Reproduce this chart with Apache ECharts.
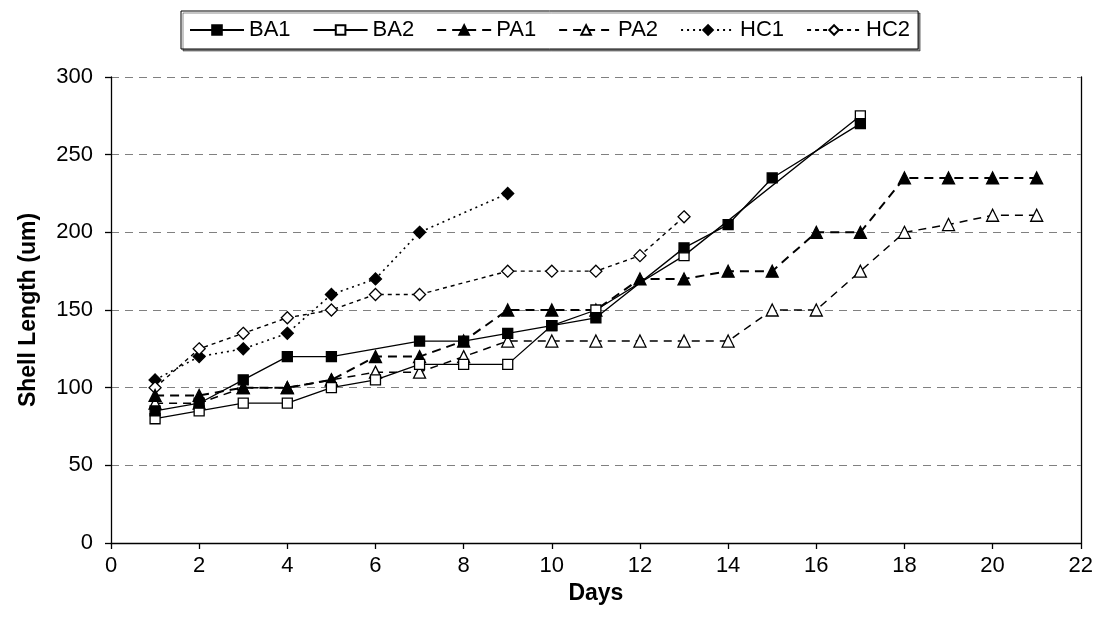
<!DOCTYPE html>
<html>
<head>
<meta charset="utf-8">
<script src="https://cdn.jsdelivr.net/npm/echarts@6/dist/echarts.min.js"></script>
<style>html,body{margin:0;padding:0;background:#fff}#c{width:1096px;height:631px}</style>
</head>
<body>
<div id="c"></div>
<script>
var days = [1,2,3,4,5,6,7,8,9,10,11,12,13,14,15,16,17,18,19,20,21];
var BA1 = [85, 90, 105, 120, 120, null, 130, 130, 135, 140, 145, null, 190, 205, 235, null, 270, null, null, null, null];
var BA2 = [80, 85, 90, 90, 100, 105, 115, 115, 115, 140, 150, null, 185, null, null, null, 275, null, null, null, null];
var PA1 = [95, 95, 100, 100, 105, 120, 120, 130, 150, 150, 150, 170, 170, 175, 175, 200, 200, 235, 235, 235, 235];
var PA2 = [90, 90, 100, 100, 105, 110, 110, 120, 130, 130, 130, 130, 130, 130, 150, 150, 175, 200, 205, 211, 211];
var HC1 = [105, 120, 125, 135, 160, 170, 200, null, 225, null, null, null, null, null, null, null, null, null, null, null, null];
var HC2 = [100, 125, 135, 145, 150, 160, 160, null, 175, 175, 175, 185, 210, null, null, null, null, null, null, null, null];
var xTicks = [0, 2, 4, 6, 8, 10, 12, 14, 16, 18, 20, 22];
var yTicks = [0, 50, 100, 150, 200, 250, 300];

function pts(arr){
  return days.map(function(d,i){return [d, arr[i]];}).filter(function(p){return p[1]!==null;});
}
var FONT = '"Liberation Sans", Arial, sans-serif';
function mk(name, arr, symbol, size, filled, lineType, lineWidth, z){
  return {
    name: name, type: 'line', data: pts(arr), symbol: symbol, symbolSize: size,
    z: z,
    lineStyle: {color: '#000', width: lineWidth, type: lineType},
    itemStyle: {color: filled ? '#000' : '#fff', borderColor: '#000', borderWidth: 1.3},
    emphasis: {disabled: true}
  };
}
var chart = echarts.init(document.getElementById('c'), null, {renderer: 'canvas'});
chart.setOption({
  animation: false,
  backgroundColor: '#fff',
  textStyle: {fontFamily: FONT},
  legend: {
    top: 11, left: 181,
    padding: [8, 8],
    itemGap: 22, itemWidth: 54, itemHeight: 12,
    backgroundColor: '#fff', borderColor: '#000', borderWidth: 1,
    shadowColor: 'rgba(0,0,0,0.45)', shadowOffsetX: 2, shadowOffsetY: 2, shadowBlur: 0,
    textStyle: {fontSize: 22, color: '#000', fontFamily: FONT},
    data: ['BA1','BA2','PA1','PA2','HC1','HC2']
  },
  grid: {left: 111, right: 15, top: 77, bottom: 88, containLabel: false},
  xAxis: {
    type: 'value', min: xTicks[0], max: xTicks[xTicks.length-1], interval: 2,
    name: 'Days', nameLocation: 'middle', nameGap: 39,
    nameTextStyle: {fontSize: 23, fontWeight: 'bold', color: '#000', fontFamily: FONT},
    axisLine: {show: true, lineStyle: {color: '#000', width: 1.3}},
    axisTick: {show: true, length: 6, lineStyle: {color: '#000', width: 1.3}},
    axisLabel: {fontSize: 22, color: '#000', margin: 12, fontFamily: FONT},
    splitLine: {show: false}
  },
  yAxis: [{
    type: 'value', min: yTicks[0], max: yTicks[yTicks.length-1], interval: 50,
    name: 'Shell Length (um)', nameLocation: 'middle', nameGap: 71, nameRotate: 90,
    nameTextStyle: {fontSize: 23, fontWeight: 'bold', color: '#000', fontFamily: FONT},
    axisLine: {show: true, lineStyle: {color: '#000', width: 1.3}},
    axisTick: {show: true, length: 6, lineStyle: {color: '#000', width: 1.3}},
    axisLabel: {fontSize: 22, color: '#000', margin: 18, fontFamily: FONT},
    splitLine: {show: true, lineStyle: {color: '#808080', width: 1.2, type: [8, 6]}}
  }, {
    type: 'value', min: 0, max: 300, position: 'right',
    axisLine: {show: true, lineStyle: {color: '#000', width: 1.3}},
    axisTick: {show: false}, axisLabel: {show: false}, splitLine: {show: false}
  }],
  series: [
    mk('BA1', BA1, 'rect', 10, true, 'solid', 1.3, 6),
    mk('BA2', BA2, 'rect', 10, false, 'solid', 1.3, 5),
    mk('PA1', PA1, 'triangle', 12, true, [9, 6], 2, 4),
    mk('PA2', PA2, 'triangle', 12, false, [8, 6], 1.5, 3),
    mk('HC1', HC1, 'diamond', 12, true, [2, 4], 1.6, 2),
    mk('HC2', HC2, 'diamond', 12, false, [4, 4], 1.4, 2)
  ]
});
</script>
</body>
</html>
